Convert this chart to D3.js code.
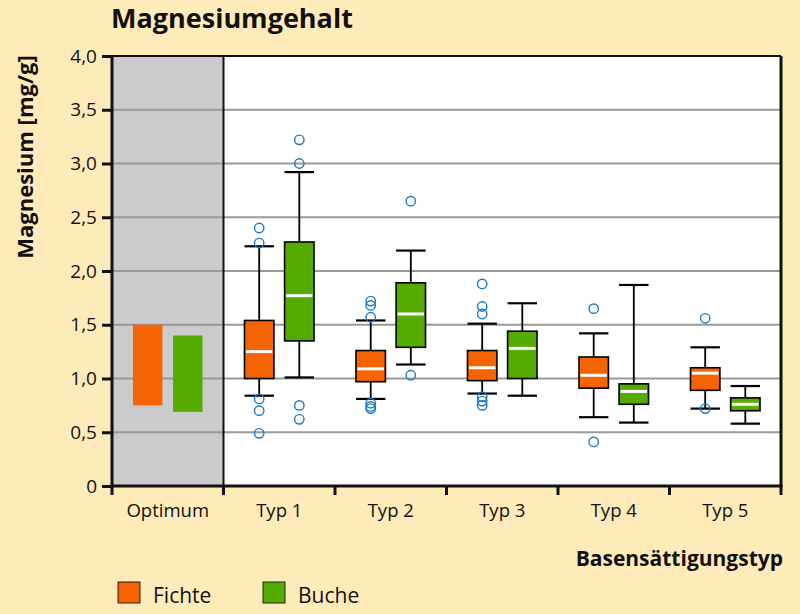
<!DOCTYPE html>
<html>
<head>
<meta charset="utf-8">
<script src="https://cdn.jsdelivr.net/npm/d3@7"></script>
<style>
  html, body { margin: 0; padding: 0; background: #FFEBBA; }
  svg { display: block; }
  text { font-family: "Open Sans", "Noto Sans", sans-serif; fill: #111; }
</style>
</head>
<body>
<svg id="chart" width="800" height="614"></svg>
<script>
// ---------- data ----------
const categories = ["Optimum", "Typ 1", "Typ 2", "Typ 3", "Typ 4", "Typ 5"];
const series = ["Fichte", "Buche"];
const seriesColors = ["#F56400", "#56AB00"];
const yTickValues = [0, 0.5, 1.0, 1.5, 2.0, 2.5, 3.0, 3.5, 4.0];
const yTickLabels = ["0", "0,5", "1,0", "1,5", "2,0", "2,5", "3,0", "3,5", "4,0"];

// optimum ranges [low, high]
const optimumFichte = [0.75, 1.50];
const optimumBuche = [0.69, 1.40];

// box stats per type: [lower whisker, q1, median, q3, upper whisker]
const boxTypes = ["Typ 1", "Typ 2", "Typ 3", "Typ 4", "Typ 5"];
const fichteStats = [
  [0.84, 1.00, 1.25, 1.54, 2.23],
  [0.81, 0.97, 1.09, 1.26, 1.54],
  [0.86, 0.98, 1.10, 1.26, 1.51],
  [0.64, 0.91, 1.03, 1.20, 1.42],
  [0.72, 0.89, 1.05, 1.10, 1.29]
];
const bucheStats = [
  [1.01, 1.35, 1.77, 2.27, 2.92],
  [1.13, 1.29, 1.60, 1.89, 2.19],
  [0.84, 1.00, 1.28, 1.44, 1.70],
  [0.59, 0.76, 0.88, 0.95, 1.87],
  [0.58, 0.70, 0.76, 0.82, 0.93]
];
const fichteOutliers = [
  [2.40, 2.26, 0.81, 0.70, 0.49],
  [1.72, 1.68, 1.57, 0.77, 0.74, 0.72],
  [1.88, 1.67, 1.60, 0.83, 0.79, 0.75],
  [1.65, 0.41],
  [1.56, 0.72]
];
const bucheOutliers = [
  [3.22, 3.00, 0.75, 0.62],
  [2.65, 1.03],
  [],
  [],
  []
];

// ---------- layout ----------
const svg = d3.select("#chart");
const W = 800, H = 614;
const plot = { left: 112, right: 781, top: 56, bottom: 486 };

svg.append("rect").attr("width", W).attr("height", H).attr("fill", "#FFEBBA");

const x = d3.scaleBand().domain(categories).range([plot.left, plot.right]).padding(0);
const xs = d3.scalePoint().domain(series).range([0, x.bandwidth()]).padding(0.89);
const y = d3.scaleLinear().domain([0, 4]).range([plot.bottom, plot.top]);
const boxW = x.bandwidth() * 0.264;

// plot background
svg.append("rect")
  .attr("x", plot.left).attr("y", plot.top)
  .attr("width", plot.right - plot.left).attr("height", plot.bottom - plot.top)
  .attr("fill", "#FFFFFF");
svg.append("rect")
  .attr("x", x("Optimum")).attr("y", plot.top)
  .attr("width", x.bandwidth()).attr("height", plot.bottom - plot.top)
  .attr("fill", "#CBCBCD");

// gridlines
svg.append("g").selectAll("line")
  .data(yTickValues.filter(v => v > 0 && v < 4))
  .join("line")
  .attr("x1", plot.left).attr("x2", plot.right)
  .attr("y1", d => y(d)).attr("y2", d => y(d))
  .attr("stroke", "#999999").attr("stroke-width", 2);

// optimum bars
const optData = [optimumFichte, optimumBuche];
svg.append("g").selectAll("rect")
  .data(optData)
  .join("rect")
  .attr("x", (d, i) => x("Optimum") + xs(series[i]) - boxW / 2)
  .attr("y", d => y(d[1]))
  .attr("width", boxW)
  .attr("height", d => y(d[0]) - y(d[1]))
  .attr("fill", (d, i) => seriesColors[i]);

// boxes
const allBoxes = [];
boxTypes.forEach((t, i) => {
  allBoxes.push({ cat: t, s: 0, st: fichteStats[i], out: fichteOutliers[i] });
  allBoxes.push({ cat: t, s: 1, st: bucheStats[i], out: bucheOutliers[i] });
});
const gb = svg.append("g");
allBoxes.forEach(b => {
  const cx = x(b.cat) + xs(series[b.s]);
  const [lw, q1, med, q3, uw] = b.st;
  const g = gb.append("g");
  g.append("line").attr("x1", cx).attr("x2", cx).attr("y1", y(uw)).attr("y2", y(q3))
    .attr("stroke", "#000").attr("stroke-width", 1.8);
  g.append("line").attr("x1", cx).attr("x2", cx).attr("y1", y(q1)).attr("y2", y(lw))
    .attr("stroke", "#000").attr("stroke-width", 1.8);
  [uw, lw].forEach(v => {
    g.append("line").attr("x1", cx - boxW / 2).attr("x2", cx + boxW / 2)
      .attr("y1", y(v)).attr("y2", y(v))
      .attr("stroke", "#000").attr("stroke-width", 2.2);
  });
  g.append("rect")
    .attr("x", cx - boxW / 2).attr("y", y(q3))
    .attr("width", boxW).attr("height", y(q1) - y(q3))
    .attr("fill", seriesColors[b.s]).attr("stroke", "#000").attr("stroke-width", 1.6);
  g.append("line").attr("x1", cx - boxW / 2 + 1.5).attr("x2", cx + boxW / 2 - 1.5)
    .attr("y1", y(med)).attr("y2", y(med))
    .attr("stroke", "#FFFFFF").attr("stroke-width", 3);
  g.selectAll("circle").data(b.out).join("circle")
    .attr("cx", cx).attr("cy", d => y(d)).attr("r", 4.7)
    .attr("fill", "none").attr("stroke", "#1A78C8").attr("stroke-width", 1.4);
});

// frame
const frame = svg.append("g").attr("stroke", "#111");
frame.append("line").attr("x1", plot.left).attr("x2", plot.right).attr("y1", plot.top).attr("y2", plot.top).attr("stroke-width", 2);
frame.append("line").attr("x1", plot.right).attr("x2", plot.right).attr("y1", plot.top).attr("y2", plot.bottom).attr("stroke-width", 3);
frame.append("line").attr("x1", x("Typ 1")).attr("x2", x("Typ 1")).attr("y1", plot.top).attr("y2", plot.bottom).attr("stroke-width", 2);

// y axis
const yAxis = svg.append("g").attr("transform", `translate(${plot.left},0)`)
  .call(d3.axisLeft(y).tickValues(yTickValues).tickFormat((d, i) => yTickLabels[i]).tickSize(10).tickPadding(5));
yAxis.select(".domain").attr("stroke", "#111").attr("stroke-width", 3).attr("d", `M0,${plot.top - 1}V${plot.bottom + 1.5}`);
yAxis.selectAll(".tick line").attr("stroke", "#111").attr("stroke-width", 3);
yAxis.selectAll(".tick text").attr("font-size", 19).attr("font-family", "Open Sans").attr("fill", "#111");

// x axis
const xAxis = svg.append("g").attr("transform", `translate(0,${plot.bottom})`)
  .call(d3.axisBottom(x).tickSize(0).tickPadding(18));
xAxis.select(".domain").attr("stroke", "#111").attr("stroke-width", 3).attr("d", `M${plot.left - 1.5},0H${plot.right + 1.5}`);
xAxis.selectAll(".tick text").attr("font-size", 18.5).attr("font-family", "Open Sans").attr("fill", "#111");
const bounds = categories.map(c => x(c)).concat([plot.right]);
xAxis.append("g").selectAll("line").data(bounds).join("line")
  .attr("x1", d => d).attr("x2", d => d).attr("y1", 0).attr("y2", 9)
  .attr("stroke", "#111").attr("stroke-width", 3);

// titles
svg.append("text").attr("x", 111).attr("y", 28)
  .attr("font-size", 27).attr("font-weight", "bold").text("Magnesiumgehalt");
svg.append("text")
  .attr("transform", `translate(33,157) rotate(-90)`)
  .attr("text-anchor", "middle").attr("font-size", 22).attr("font-weight", "bold")
  .text("Magnesium [mg/g]");
svg.append("text").attr("x", 783).attr("y", 566).attr("text-anchor", "end")
  .attr("font-size", 21).attr("font-weight", "bold").text("Basensättigungstyp");

// legend
const legX = [118, 263];
const leg = svg.append("g");
series.forEach((s, i) => {
  leg.append("rect").attr("x", legX[i]).attr("y", 582).attr("width", 22).attr("height", 21)
    .attr("fill", seriesColors[i]).attr("stroke", "#222").attr("stroke-width", 1);
  leg.append("text").attr("x", legX[i] + 35).attr("y", 603).attr("font-size", 21).text(s);
});
</script>
</body>
</html>
